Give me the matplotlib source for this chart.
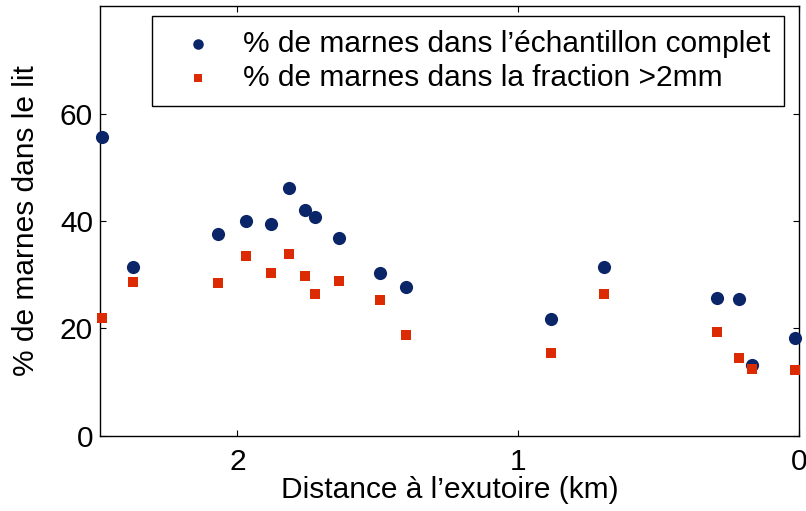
import matplotlib
matplotlib.use('Agg')
import matplotlib.pyplot as plt

# distance to outlet (km) and % marls
dist = [2.482, 2.372, 2.071, 1.971, 1.880, 1.818, 1.760, 1.724, 1.637, 1.492, 1.399,
        0.883, 0.695, 0.292, 0.212, 0.168, 0.015]
pct_complet = [55.6, 31.4, 37.6, 40.0, 39.5, 46.1, 42.1, 40.8, 36.8, 30.4, 27.7,
               21.8, 31.4, 25.6, 25.4, 13.2, 18.2]
pct_fraction = [21.9, 28.7, 28.5, 33.4, 30.4, 33.9, 29.8, 26.5, 28.8, 25.3, 18.7,
                15.4, 26.4, 19.3, 14.5, 12.4, 12.3]

xticks = [2, 1, 0]
yticks = [0, 20, 40, 60]

plt.rcParams['font.family'] = ['Liberation Sans', 'DejaVu Sans']
fs = 21.5

fig = plt.figure(figsize=(8.06, 5.11), dpi=100)
ax = fig.add_axes([0.124, 0.147, 0.867, 0.841])

ax.scatter(dist, pct_complet, s=90, marker='o', color='#0b2569', linewidths=0,
           label="% de marnes dans l\u2019\u00e9chantillon complet", clip_on=False, zorder=3)
ax.scatter(dist, pct_fraction, s=62, marker='s', color='#dc2b02', linewidths=0,
           label='% de marnes dans la fraction >2mm', clip_on=False, zorder=3)

ax.set_xlim(2.49, 0)
ax.set_ylim(0, 80)
ax.set_xticks(xticks)
ax.set_yticks(yticks)
ax.tick_params(direction='in', top=True, right=True, length=4.5, width=0.8, labelsize=fs)
ax.tick_params(axis='x', pad=9)
ax.tick_params(axis='y', pad=5)
for sp in ax.spines.values():
    sp.set_linewidth(1.0)

ax.set_xlabel("Distance \u00e0 l\u2019exutoire (km)", fontsize=fs, labelpad=0)
ax.set_ylabel('% de marnes dans le lit', fontsize=fs, labelpad=14)

leg = ax.legend(loc='upper right', bbox_to_anchor=(0.9785, 0.9767), borderaxespad=0,
                fontsize=fs, frameon=True, fancybox=False,
                edgecolor='black', framealpha=1, handlelength=2.2,
                handletextpad=0.4, borderpad=0.45, labelspacing=0.22, markerscale=0.8)
leg.get_frame().set_linewidth(1.0)

fig.savefig('out.png', dpi=100)
